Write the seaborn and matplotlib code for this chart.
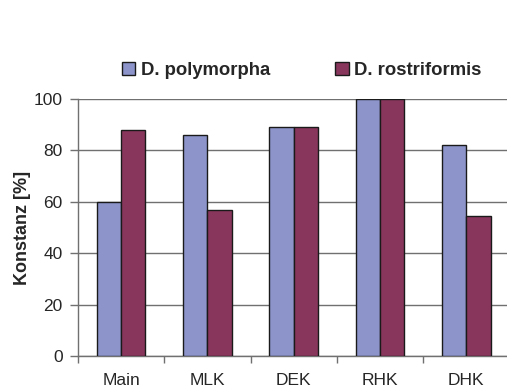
import numpy as np
import pandas as pd
import matplotlib
matplotlib.use("Agg")
import matplotlib.pyplot as plt
import seaborn as sns
from matplotlib.patches import Patch

# data
sites = ["Main", "MLK", "DEK", "RHK", "DHK"]
polymorpha = [60, 86, 89, 100, 82]
rostriformis = [88, 57, 89, 100, 54.5]
species = ["D. polymorpha", "D. rostriformis"]
colors = ["#8C94CA", "#89365D"]

df = pd.DataFrame({
    "site": sites * 2,
    "value": polymorpha + rostriformis,
    "species": [species[0]] * len(sites) + [species[1]] * len(sites),
})

sns.set_style("white")
plt.rcParams["font.family"] = ["Liberation Sans", "DejaVu Sans"]

fig = plt.figure(figsize=(5.07, 3.91), dpi=100)
ax = fig.add_axes([78 / 507, 1 - 356 / 391, 431.5 / 507, 257 / 391])

sns.barplot(data=df, x="site", y="value", hue="species", palette=colors,
            saturation=1, width=0.563, edgecolor="#1a1a1a", linewidth=1.0,
            ax=ax, legend=False, zorder=3)

ax.set_xlim(-0.5, 4.5)
ax.set_ylim(0, 100)
ax.set_yticks(np.arange(0, 101, 20))
ax.yaxis.grid(True, color="#707070", linewidth=1.0, zorder=0)
ax.set_axisbelow(True)

for s in ["top", "right"]:
    ax.spines[s].set_visible(False)
for s in ["left", "bottom"]:
    ax.spines[s].set_color("#707070")
    ax.spines[s].set_linewidth(1.0)

ax.set_xticks(np.arange(-0.5, 5, 1), minor=True)
ax.tick_params(axis="x", which="major", length=0, pad=12, labelsize=12.5)
ax.tick_params(axis="x", which="minor", length=5, width=1, color="#707070",
               direction="out", bottom=True)
ax.tick_params(axis="y", which="major", length=6, width=1, color="#707070",
               direction="out", left=True, pad=5, labelsize=12.5)

ax.set_xlabel("")
ax.set_ylabel("Konstanz [%]", fontsize=13, fontweight="bold")
ax.yaxis.set_label_coords(-0.11, 0.5)

handles = [Patch(facecolor=c, edgecolor="#1a1a1a", linewidth=1.0) for c in colors]
fig.legend(handles, species, loc="center", bbox_to_anchor=(0.595, 1 - 70.5 / 391),
           ncol=2, frameon=False, prop={"weight": "bold", "size": 13.3},
           handlelength=0.75, handleheight=0.75, handletextpad=0.3,
           columnspacing=3.5)

fig.savefig("out.png", dpi=100)
